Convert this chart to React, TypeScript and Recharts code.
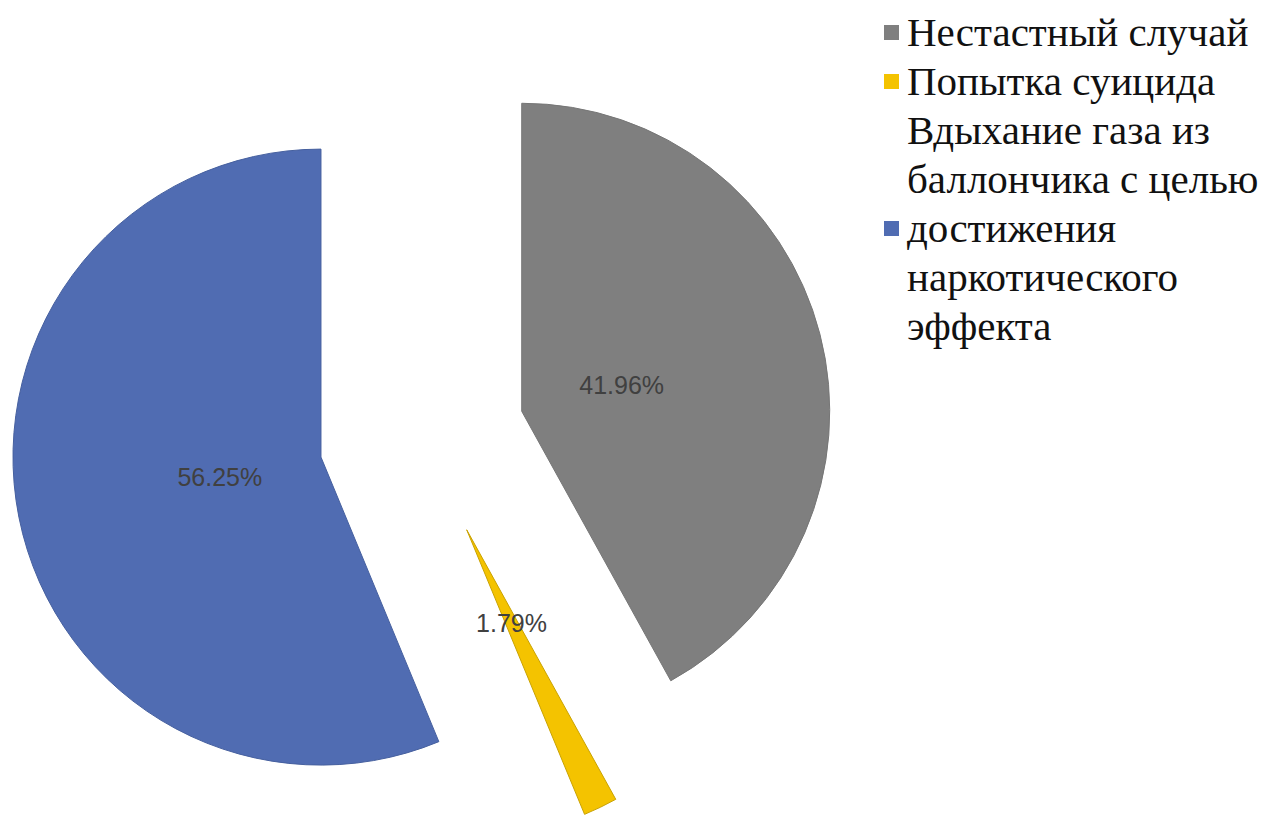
import { PieChart, Pie, Cell } from "recharts";

const categories = [
  "Нестастный случай",
  "Попытка суицида",
  "Вдыхание газа из баллончика с целью достижения наркотического эффекта",
];
// how the legend breaks each label into lines
const legendLines = [
  ["Нестастный случай"],
  ["Попытка суицида"],
  ["Вдыхание газа из", "баллончика с целью", "достижения", "наркотического", "эффекта"],
];
const shares = [41.96, 1.79, 56.25];
const colors = ["#7f7f7f", "#f4c300", "#506cb2"];
const edges = ["#767676", "#c9a200", "#46609f"];

const data = categories.map((name, i) => ({ name, value: shares[i] }));

const CX = 422;
const CY = 437;
const R = 308;
const EXPLODE = 103;
const RAD = Math.PI / 180;
const total = shares.reduce((a, b) => a + b, 0);

// offset of every exploded slice along its own mid angle
const offsets = shares.map((v, i) => {
  const before = shares.slice(0, i).reduce((a, b) => a + b, 0);
  const mid = 90 - (360 * (before + v / 2)) / total;
  return { dx: EXPLODE * Math.cos(mid * RAD), dy: -EXPLODE * Math.sin(mid * RAD) };
});

const makeLabel = (own: number) => (props: any) => {
  if (props.index !== own) return null;
  const x = props.cx + props.outerRadius * 0.335 * Math.cos(-props.midAngle * RAD);
  const y = props.cy + props.outerRadius * 0.335 * Math.sin(-props.midAngle * RAD);
  return (
    <text
      x={x}
      y={y}
      textAnchor="middle"
      dominantBaseline="central"
      fill="#404040"
      fontSize={25}
      fontFamily="'Liberation Sans', Arial, sans-serif"
    >
      {`${shares[own].toFixed(2)}%`}
    </text>
  );
};

export default function App() {
  return (
    <div style={{ position: "absolute", left: 0, top: 0, width: 1274, height: 816, background: "#fff" }}>
      <PieChart width={1274} height={816} margin={{ top: 0, right: 0, bottom: 0, left: 0 }}>
        {shares.map((_, own) => (
          <Pie
            key={own}
            data={data}
            dataKey="value"
            nameKey="name"
            cx={CX + offsets[own].dx}
            cy={CY + offsets[own].dy}
            outerRadius={R}
            startAngle={90}
            endAngle={-270}
            labelLine={false}
            label={makeLabel(own)}
            isAnimationActive={false}
          >
            {data.map((_, i) => (
              <Cell
                key={i}
                fill={i === own ? colors[i] : "none"}
                stroke={i === own ? edges[i] : "none"}
                strokeWidth={1}
              />
            ))}
          </Pie>
        ))}
      </PieChart>
      <div
        style={{
          position: "absolute",
          left: 884,
          top: 8,
          fontFamily: "Liberation Serif, Tinos, Times New Roman, DejaVu Serif, serif",
          fontSize: 41,
          lineHeight: "49px",
          color: "#111",
        }}
      >
        {legendLines.map((lines, i) => (
          <div key={i} style={{ display: "flex", alignItems: "center" }}>
            <div style={{ width: 15, height: 15, background: colors[i], marginRight: 8, flexShrink: 0 }} />
            <div>
              {lines.map((l, j) => (
                <div key={j} style={{ whiteSpace: "nowrap" }}>
                  {l}
                </div>
              ))}
            </div>
          </div>
        ))}
      </div>
    </div>
  );
}
